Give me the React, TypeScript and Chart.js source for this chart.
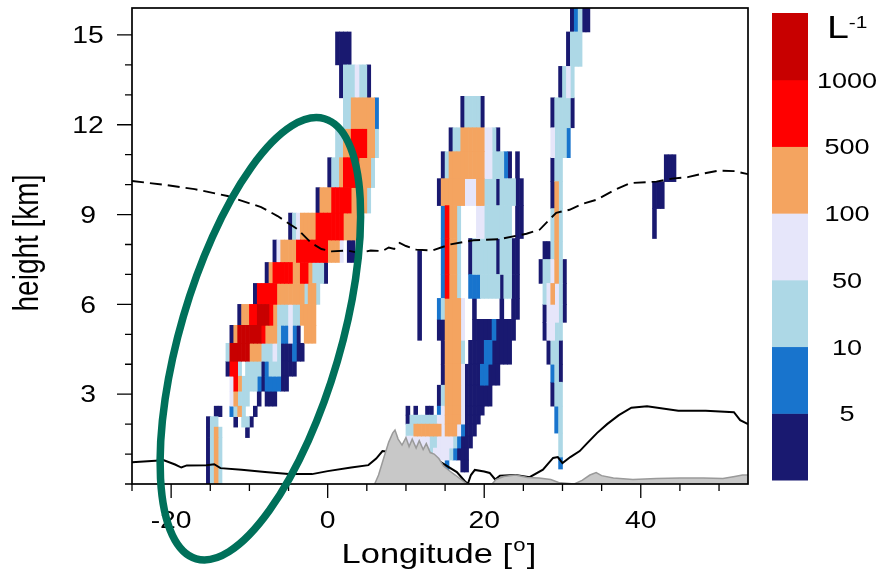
import React, { useEffect, useRef } from 'react';
import { Chart, registerables } from 'chart.js';

Chart.register(...registerables);

// ---------- data ----------
// concentration classes (navy -> dark red)
const levelColors = ['#191970', '#1874CD', '#ADD8E6', '#E6E6FA', '#F4A460', '#FF0000', '#C80000'];
const levelBounds = ['5', '10', '50', '100', '500', '1000'];
const lonMajorTicks = [-20, 0, 20, 40];
const heightMajorTicks = [3, 6, 9, 12, 15];

// rows: [h0, h1, lon, level, lon, level, ..., lon]  (level 9 = empty)
const plumeWest: number[][] = [
  [14.0, 15.1, 1.0, 0, 3.0],
  [12.9, 14.0, 1.5, 0, 2.0, 2, 3.5, 3, 4.0, 2, 5.0, 0, 5.5],
  [11.85, 12.9, 2.0, 2, 3.0, 4, 6.0, 1, 6.5],
  [10.9, 11.85, 1.0, 2, 2.0, 4, 3.0, 5, 5.0, 4, 6.0, 2, 6.5],
  [9.9, 10.9, 0.0, 0, 0.5, 2, 1.5, 4, 2.0, 5, 4.0, 4, 5.5, 2, 6.0],
  [9.05, 9.9, -1.5, 0, -1.0, 4, 0.5, 5, 3.0, 4, 5.0, 2, 5.5],
  [8.15, 9.05, -5.0, 0, -4.5, 2, -4.0, 3, -3.5, 4, -1.5, 5, 2.0, 4, 4.0, 2, 4.5],
  [7.4, 8.15, -7.0, 0, -6.5, 3, -6.0, 4, -4.0, 5, 0.0, 4, 1.5, 3, 2.0, 9, 2.5, 0, 3.5],
  [6.7, 7.4, -8.0, 0, -7.5, 4, -7.0, 5, -4.5, 4, -3.5, 5, -2.5, 4, -2.0, 2, -0.5, 0, 0.0],
  [6.0, 6.7, -9.5, 0, -9.0, 5, -6.5, 4, -3.0, 2, -2.5, 4, -1.5, 2, -1.0],
  [5.3, 6.0, -11.5, 0, -11.0, 4, -10.0, 5, -9.0, 6, -7.5, 5, -7.0, 4, -6.5, 2, -5.0, 3, -4.5, 2, -3.5, 4, -1.5],
  [4.7, 5.3, -12.5, 0, -12.0, 4, -11.5, 6, -8.5, 5, -8.0, 4, -6.5, 2, -6.0, 1, -5.0, 3, -4.5, 1, -4.0, 0, -3.5, 9, -3.0, 4, -1.5],
  [4.1, 4.7, -13.0, 2, -12.5, 6, -10.0, 4, -8.5, 2, -7.0, 3, -6.5, 2, -6.0, 0, -4.5, 1, -4.0, 0, -3.0],
  [3.6, 4.1, -13.0, 0, -12.5, 5, -11.5, 2, -11.0, 9, -10.5, 2, -8.5, 0, -8.0, 1, -7.5, 2, -6.0, 0, -4.0],
  [3.1, 3.6, -12.5, 3, -12.0, 5, -11.5, 4, -11.0, 2, -9.0, 1, -8.5, 0, -8.0, 1, -6.0, 0, -5.0],
  [2.6, 3.1, -12.5, 3, -12.0, 4, -11.5, 2, -10.0, 9, -9.0, 0, -8.5, 9, -8.0, 0, -6.5],
  [2.25, 2.6, -14.5, 0, -13.5, 9, -12.5, 1, -12.0, 2, -11.5, 4, -11.0, 2, -10.5, 9, -9.5, 0, -9.0],
  [1.9, 2.25, -15.5, 0, -15.0, 2, -14.0, 9, -12.0, 0, -11.5, 9, -11.0, 2, -10.0, 0, -9.5],
  [1.55, 1.9, -15.5, 0, -15.0, 2, -14.5, 4, -14.0, 2, -13.5, 9, -10.5, 0, -10.0],
  [0.0, 1.55, -15.5, 0, -15.0, 2, -14.5, 4, -14.0, 2, -13.5],
];

const plumeCentral: number[][] = [
  [11.9, 12.95, 17.0, 0, 17.5, 2, 19.5, 0, 20.0],
  [11.1, 11.9, 15.5, 0, 16.0, 2, 17.0, 4, 20.0, 3, 21.0, 2, 21.5, 0, 22.0],
  [10.2, 11.1, 14.5, 0, 15.0, 2, 15.5, 4, 20.0, 3, 21.0, 2, 22.5, 1, 23.0, 0, 23.5, 9, 24.0, 0, 24.5],
  [9.3, 10.2, 14.0, 0, 14.5, 4, 17.5, 3, 19.0, 4, 20.0, 2, 21.5, 0, 22.0, 2, 24.0, 0, 25.0],
  [8.2, 9.3, 14.5, 1, 15.0, 5, 15.5, 4, 16.5, 2, 17.0, 9, 19.0, 3, 20.0, 2, 23.5, 9, 24.0, 0, 25.0],
  [7.0, 8.2, 14.5, 1, 15.0, 5, 15.5, 4, 16.5, 2, 17.0, 9, 18.0, 0, 18.5, 2, 21.5, 0, 22.0, 2, 23.5, 0, 24.5],
  [6.2, 7.0, 14.5, 1, 15.0, 5, 15.5, 4, 16.5, 2, 17.0, 9, 18.0, 1, 19.5, 2, 22.0, 0, 22.5, 2, 23.5, 0, 24.5],
  [5.5, 6.2, 14.0, 1, 14.5, 2, 15.0, 4, 17.0, 3, 17.5, 9, 18.5, 0, 19.0, 9, 22.0, 0, 22.5, 9, 23.5, 0, 24.5],
  [4.8, 5.5, 14.0, 0, 15.0, 4, 17.0, 3, 17.5, 9, 18.5, 0, 21.0, 1, 21.5, 0, 24.0],
  [4.0, 4.8, 14.5, 0, 15.0, 4, 17.0, 2, 17.5, 9, 18.0, 0, 20.0, 1, 21.0, 0, 23.5],
  [3.3, 4.0, 14.5, 0, 15.0, 4, 17.0, 3, 17.5, 0, 19.5, 1, 20.5, 0, 22.0],
  [2.6, 3.3, 14.0, 0, 14.5, 2, 15.0, 4, 17.0, 3, 17.5, 0, 21.0],
  [2.3, 2.6, 10.0, 0, 10.5, 9, 11.0, 0, 11.5, 9, 12.5, 0, 13.5, 9, 14.0, 1, 14.5, 3, 15.0, 4, 17.0, 3, 17.5, 0, 20.0],
  [2.0, 2.3, 10.0, 0, 10.5, 2, 14.0, 3, 15.0, 4, 17.0, 3, 17.5, 0, 19.5],
  [1.6, 2.0, 10.0, 2, 11.0, 4, 14.5, 3, 15.0, 4, 16.5, 3, 17.0, 1, 17.5, 0, 19.0],
  [1.2, 1.6, 10.0, 3, 13.0, 2, 14.0, 3, 16.0, 2, 16.5, 1, 17.0, 0, 18.5],
  [0.8, 1.2, 12.5, 2, 13.5, 3, 15.5, 2, 16.0, 1, 16.5, 0, 18.0],
  [0.4, 0.8, 15.0, 1, 15.5, 9, 17.0, 0, 18.0],
  [4.8, 7.8, 11.5, 0, 12.0],
];

const plumeEast: number[][] = [
  [15.1, 16.0, 31.0, 0, 31.5, 1, 32.0, 2, 32.5, 0, 33.5],
  [13.95, 15.1, 30.5, 0, 31.0, 2, 32.5],
  [12.9, 13.95, 29.5, 0, 30.0, 2, 30.5, 3, 31.0, 2, 31.5],
  [11.9, 12.9, 28.5, 0, 29.0, 2, 31.0, 0, 31.5],
  [10.9, 11.9, 28.5, 3, 29.0, 2, 30.5, 1, 31.0],
  [10.1, 10.9, 28.5, 0, 29.0, 2, 30.0],
  [9.2, 10.1, 28.5, 0, 29.0, 4, 29.5, 2, 30.0],
  [8.1, 9.2, 28.5, 2, 29.0, 4, 29.5, 2, 30.0],
  [7.5, 8.1, 27.5, 0, 28.5, 2, 29.0, 4, 29.5, 2, 30.0],
  [6.7, 7.5, 27.0, 0, 27.5, 2, 28.5, 3, 29.0, 4, 29.5, 2, 30.0, 0, 30.5],
  [6.0, 6.7, 27.5, 2, 28.0, 3, 28.5, 4, 29.0, 3, 29.5, 2, 30.0, 0, 30.5],
  [5.4, 6.0, 27.5, 0, 28.0, 3, 29.5, 2, 30.0, 0, 30.5],
  [4.8, 5.4, 27.5, 0, 28.0, 3, 29.0, 2, 30.0],
  [4.0, 4.8, 28.0, 0, 28.5, 2, 29.5, 0, 30.0],
  [3.4, 4.0, 28.5, 1, 29.0, 2, 29.5, 0, 30.0],
  [2.6, 3.4, 28.5, 0, 29.0, 2, 30.0],
  [1.7, 2.6, 29.0, 1, 29.5, 2, 30.0],
  [0.9, 1.7, 29.5, 2, 30.0],
  [0.5, 0.9, 29.5, 1, 30.0],
];

const cellsFarEast: number[][] = [
  [10.1, 11.0, 43.0, 0, 44.5],
  [9.2, 10.1, 41.5, 0, 43.0],
  [8.2, 9.2, 41.5, 0, 42.0],
];

// dashed line (tropopause)  [lon, km]
const tropopause: [number, number][] = [
  [-25, 10.12], [-21, 10.0], [-17, 9.85], [-12.8, 9.62], [-8.5, 9.25], [-6.4, 8.95], [-3.8, 8.5],
  [-2.1, 8.05], [-0.8, 7.85], [0.5, 7.77], [2.5, 7.8], [4.0, 7.72], [5.5, 7.8], [7.0, 7.78], [7.8, 7.9],
  [8.5, 7.85], [9.2, 8.05], [10.0, 7.95], [11.3, 7.83], [13.4, 7.8], [15.6, 8.0], [18.6, 8.14], [22.0, 8.18],
  [25.4, 8.36], [27.1, 8.5], [28.2, 8.8], [29.2, 9.06], [30.9, 9.16], [32.5, 9.35], [34.4, 9.5], [36.5, 9.8],
  [38.6, 10.05], [42, 10.1], [44, 10.2], [46, 10.25], [47.6, 10.35], [50, 10.47], [52, 10.45], [53.7, 10.35],
];

// solid line (boundary layer top)  [lon, km]
const boundaryLayer: [number, number][] = [
  [-25, 0.73], [-22, 0.78], [-21, 0.8], [-19.5, 0.65], [-18.7, 0.55], [-18, 0.62], [-15.5, 0.63], [-14.5, 0.66],
  [-13.7, 0.53], [-11, 0.48], [-8, 0.4], [-5, 0.33], [-2, 0.33], [0, 0.43], [3, 0.55], [5.2, 0.63], [6.2, 0.85],
  [7, 1.1], [10, 1.0], [14, 0.8], [16.5, 0.4], [17.5, 0.1], [17.9, 0.0], [18.3, 0.3], [18.8, 0.47], [20, 0.42],
  [20.7, 0.37], [21.4, 0.15], [22, 0.28], [24, 0.3], [25.8, 0.23], [27.5, 0.48], [28.8, 0.87], [29.4, 0.9],
  [30, 0.7], [31, 0.9], [32.2, 1.1], [33.1, 1.35], [34.4, 1.7], [35.7, 2.0], [37.2, 2.3], [38.8, 2.55],
  [40.8, 2.6], [44.8, 2.45], [48.3, 2.45], [51.9, 2.4], [52.7, 2.13], [53.7, 2.0],
];

// orography (grey)  [lon, km]
const terrain: [number, number][] = [
  [6.0, 0], [6.5, 0.3], [7.2, 0.9], [7.8, 1.4], [8.3, 1.7], [8.6, 1.8], [9.0, 1.5], [9.5, 1.3], [10.0, 1.55],
  [10.4, 1.25], [10.8, 1.5], [11.3, 1.2], [11.7, 1.45], [12.2, 1.15], [12.6, 1.35], [13.1, 1.05], [13.6, 1.0],
  [14.2, 0.85], [14.8, 0.6], [15.5, 0.45], [16.3, 0.3], [17.2, 0.12], [17.8, 0], [21.0, 0], [21.5, 0.15],
  [22.5, 0.25], [24.0, 0.3], [25.5, 0.22], [27.0, 0.2], [28.5, 0.15], [29.5, 0.05], [31.5, 0], [32.5, 0.12],
  [33.5, 0.3], [34.3, 0.38], [35.0, 0.28], [36.5, 0.2], [39, 0.15], [42, 0.18], [45, 0.2], [48, 0.2],
  [50.5, 0.18], [52, 0.25], [53, 0.3], [53.7, 0.3],
];

// highlighted region (ellipse): centre, end of major axis, minor/major ratio
const ellipseCenter: [number, number] = [-8.6, 4.85];
const ellipseTip: [number, number] = [-0.4, 12.2];
const ellipseAspect = 0.35;

// ---------- helpers ----------
const COLUMN = 0.5;
type Cell = { x: number; y: [number, number] };

function expandRows(rows: number[][], out: Cell[][]) {
  for (const r of rows) {
    const h0 = r[0];
    const h1 = r[1];
    for (let i = 2; i + 2 < r.length; i += 2) {
      const a = r[i];
      const lvl = r[i + 1];
      const b = r[i + 2];
      if (lvl < 0 || lvl >= out.length) continue;
      for (let x = a; x < b - 1e-9; x += COLUMN) out[lvl].push({ x: x + COLUMN / 2, y: [h0, h1] });
    }
  }
}

const FONT = '"Liberation Sans", Arial, Helvetica, sans-serif';
const SX = 1.23;

function drawText(ctx: CanvasRenderingContext2D, s: string, x: number, y: number, size: number, align: CanvasTextAlign = 'center') {
  ctx.save();
  ctx.translate(x, y);
  ctx.scale(SX, 1);
  ctx.font = `${size}px ${FONT}`;
  ctx.textAlign = align;
  ctx.textBaseline = 'alphabetic';
  ctx.fillStyle = '#000';
  ctx.fillText(s, 0, 0);
  ctx.restore();
}

const decorPlugin = {
  id: 'decor',
  afterDraw(chart: any) {
    const ctx: CanvasRenderingContext2D = chart.ctx;
    const ca = chart.chartArea;
    const xs = chart.scales.x;
    const ys = chart.scales.y;
    ctx.save();

    // frame
    ctx.strokeStyle = '#000';
    ctx.lineWidth = 1.7;
    ctx.strokeRect(ca.left, ca.top, ca.right - ca.left, ca.bottom - ca.top);

    // ticks
    ctx.lineWidth = 1.3;
    ctx.beginPath();
    for (let v = -25; v <= xs.max + 1e-6; v += 5) {
      const px = xs.getPixelForValue(v);
      const major = lonMajorTicks.includes(v);
      ctx.moveTo(px, ca.bottom);
      ctx.lineTo(px, ca.bottom + (major ? 14 : 7));
    }
    for (let v = 0; v <= ys.max + 1e-6; v += 1) {
      const py = ys.getPixelForValue(v);
      const major = heightMajorTicks.includes(v);
      ctx.moveTo(ca.left, py);
      ctx.lineTo(ca.left - (major ? 15 : 7), py);
    }
    ctx.stroke();

    // tick labels
    for (const v of lonMajorTicks) drawText(ctx, String(v), xs.getPixelForValue(v), 528, 23);
    for (const v of heightMajorTicks) drawText(ctx, String(v), 88, ys.getPixelForValue(v) + 8.2, 23);

    // x title with superscript o
    {
      const size = 28;
      const small = 18;
      ctx.font = `${size}px ${FONT}`;
      const w1 = ctx.measureText('Longitude [').width;
      const w3 = ctx.measureText(']').width;
      ctx.font = `${small}px ${FONT}`;
      const w2 = ctx.measureText('o').width;
      const total = (w1 + w2 + w3 + 2) * SX;
      const x0 = 439 - total / 2;
      ctx.save();
      ctx.translate(x0, 563);
      ctx.scale(SX, 1);
      ctx.fillStyle = '#000';
      ctx.textAlign = 'left';
      ctx.textBaseline = 'alphabetic';
      ctx.font = `${size}px ${FONT}`;
      ctx.fillText('Longitude [', 0, 0);
      ctx.font = `${small}px ${FONT}`;
      ctx.fillText('o', w1 + 1, -12);
      ctx.font = `${size}px ${FONT}`;
      ctx.fillText(']', w1 + w2 + 2, 0);
      ctx.restore();
    }

    // y title
    ctx.save();
    ctx.translate(38, 243);
    ctx.rotate(-Math.PI / 2);
    ctx.scale(1, SX);
    ctx.font = `28px ${FONT}`;
    ctx.fillStyle = '#000';
    ctx.textAlign = 'center';
    ctx.textBaseline = 'alphabetic';
    ctx.fillText('height [km]', 0, 0);
    ctx.restore();

    // colour bar
    const cbL = 772, cbR = 808, cbT = 13, cbB = 480;
    const n = levelColors.length;
    const bh = (cbB - cbT) / n;
    for (let i = 0; i < n; i++) {
      ctx.fillStyle = levelColors[i];
      ctx.fillRect(cbL, cbB - (i + 1) * bh, cbR - cbL, bh + 0.5);
    }
    levelBounds.forEach((lab, i) => {
      const y = cbB - (i + 1) * bh;
      drawText(ctx, lab, 847, y + 8, 22);
    });
    drawText(ctx, 'L', 838, 38, 32);
    drawText(ctx, '-1', 858, 28, 17);

    // ellipse
    const cx = xs.getPixelForValue(ellipseCenter[0]);
    const cy = ys.getPixelForValue(ellipseCenter[1]);
    const tx = xs.getPixelForValue(ellipseTip[0]);
    const ty = ys.getPixelForValue(ellipseTip[1]);
    const a = Math.hypot(tx - cx, ty - cy);
    const rot = Math.atan2(ty - cy, tx - cx);
    ctx.beginPath();
    ctx.ellipse(cx, cy, a, a * ellipseAspect, rot, 0, Math.PI * 2);
    ctx.lineWidth = 7.5;
    ctx.strokeStyle = '#00705A';
    ctx.stroke();

    ctx.restore();
  },
};

export default function App() {
  const ref = useRef<HTMLCanvasElement | null>(null);

  useEffect(() => {
    if (!ref.current) return;
    const cells: Cell[][] = levelColors.map(() => []);
    [plumeWest, plumeCentral, plumeEast, cellsFarEast].forEach((rows) => expandRows(rows, cells));

    const barSets = cells.map((data, i) => ({
      type: 'bar' as const,
      data,
      backgroundColor: levelColors[i],
      borderWidth: 0,
      grouped: false,
      barPercentage: 1,
      categoryPercentage: 1,
      order: 20 - i,
    }));

    const lineSets: any[] = [
      {
        type: 'line',
        data: boundaryLayer.map(([x, y]) => ({ x, y })),
        borderColor: '#000',
        borderWidth: 2,
        pointRadius: 0,
        fill: false,
        tension: 0,
        order: 6,
      },
      {
        type: 'line',
        data: terrain.map(([x, y]) => ({ x, y })),
        borderColor: '#9A9A9A',
        borderWidth: 1.5,
        backgroundColor: '#C8C8C8',
        pointRadius: 0,
        fill: 'origin',
        tension: 0,
        order: 5,
      },
      {
        type: 'line',
        data: tropopause.map(([x, y]) => ({ x, y })),
        borderColor: '#000',
        borderWidth: 1.9,
        borderDash: [12, 6],
        pointRadius: 0,
        fill: false,
        tension: 0,
        order: 1,
      },
    ];

    const chart = new Chart(ref.current, {
      type: 'bar',
      data: { datasets: [...barSets, ...lineSets] as any },
      options: {
        responsive: false,
        maintainAspectRatio: false,
        animation: false,
        layout: { padding: { left: 132, right: 133, top: 8, bottom: 89 } },
        plugins: { legend: { display: false }, tooltip: { enabled: false } },
        scales: {
          x: { type: 'linear', min: -25, max: 53.7, offset: false, display: false },
          y: { type: 'linear', min: 0, max: 15.9, display: false },
        },
      },
      plugins: [decorPlugin],
    });
    return () => chart.destroy();
  }, []);

  return (
    <div style={{ position: 'absolute', left: 0, top: 0, width: 881, height: 573, background: '#fff' }}>
      <canvas ref={ref} width={881} height={573} style={{ display: 'block' }} />
    </div>
  );
}
